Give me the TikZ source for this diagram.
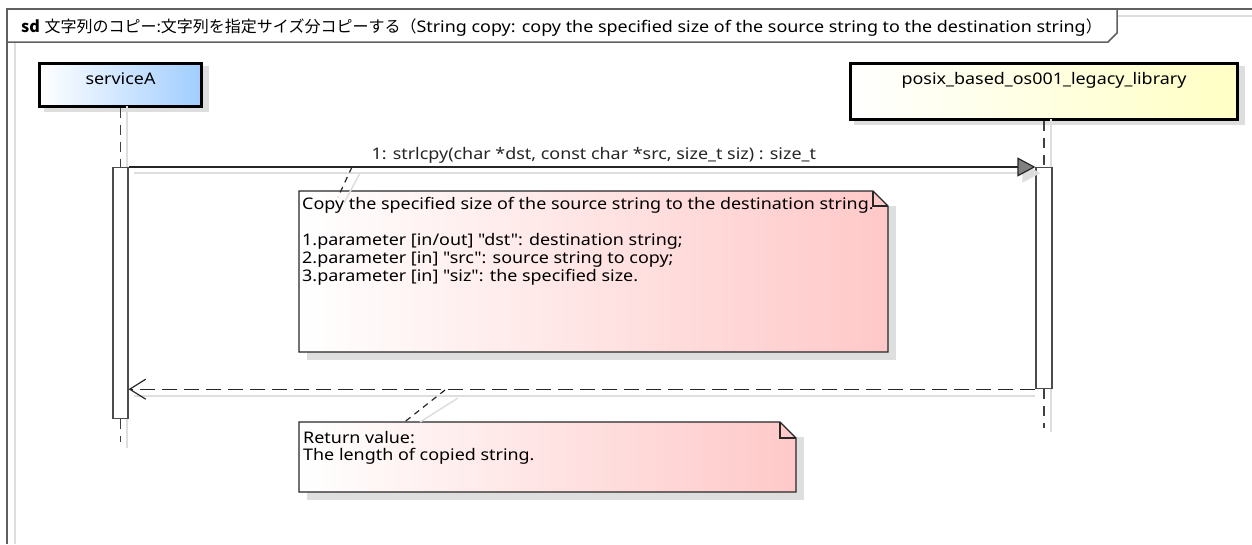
\documentclass[tikz,border=0pt]{standalone}
\usepackage{fontspec}
\setmainfont{Noto Sans}[Ligatures=TeXOff, FakeStretch=1.12]
\newfontfamily\jpfont{Noto Sans CJK JP}[Ligatures=TeXOff]
\usetikzlibrary{positioning, calc, arrows.meta}
\definecolor{framegray}{RGB}{96,96,96}
\definecolor{shadowgray}{RGB}{222,222,222}
\definecolor{partblue}{RGB}{160,205,255}
\definecolor{partyellow}{RGB}{255,255,196}
\definecolor{notepink}{RGB}{255,200,200}
\tikzset{
  lifeline/.style={draw=black!75, line width=1.2pt, dash pattern=on 10pt off 7pt},
  actbar/.style={draw=black!70, fill=white, line width=1.2pt, minimum width=15pt, inner sep=0pt, anchor=north},
  partbox/.style={draw=black, line width=3pt, inner xsep=0pt, inner ysep=6pt, anchor=north, text height=15.5pt},
  notetext/.style={align=left, inner sep=0pt, anchor=north west},
  notefill/.style={draw=black!85, line width=1.2pt, left color=white, right color=notepink},
  notelink/.style={black!85, line width=1.2pt, dash pattern=on 6pt off 5pt},
  shadowline/.style={shadowgray, line width=1.5pt},
}

\begin{document}
\begin{tikzpicture}[x=1pt, y=-1pt, font=\fontsize{16}{18}\selectfont]
\useasboundingbox (0,0) rectangle (1252,544);
% frame and title
\draw[shadowline] (15,43) -- (15,544);
\draw[shadowline] (1117,16) -- (1252,16);
\draw[framegray, line width=1.5pt] (7,544) -- (7,9) -- (1252,9);
\draw[framegray, line width=1.5pt] (7,42) -- (1108,42) -- (1117,33) -- (1117,9);
\node[anchor=base west, inner sep=0pt] (title) at (21,32) {{\jpfont\bfseries sd} {\jpfont 文字列のコピー:文字列を指定サイズ分コピーする（}String copy: copy the specified size of the source string to the destination string{\jpfont ）}};

% participants
\fill[shadowgray] (44,66) rectangle (209,112);
\fill[shadowgray] (854,66) rectangle (1245,125);
\node[partbox, left color=white, right color=partblue, minimum width=162pt, text depth=15.5pt] (svcA) at (120.5,61.5) {serviceA};
\node[partbox, left color=white, right color=partyellow, minimum width=387pt, text depth=28.5pt] (posix) at (1044,61.5) {posix\_based\_os001\_legacy\_library};

% lifelines
\draw[shadowline] (127,106) -- (127,448);
\draw[shadowline] (1051,119) -- (1051,432);
\node[actbar, minimum height=251pt] (actA) at (120.5,167) {};
\node[actbar, minimum width=16pt, minimum height=221pt] (actB) at (1044,167) {};
\coordinate (endA) at (120.5,442);
\coordinate (endB) at (1044,428);
\draw[lifeline] (svcA.south) -- (actA.north);
\draw[lifeline] (actA.south) -- (endA);
\draw[lifeline] (posix.south) -- (actB.north);
\draw[lifeline] (actB.south) -- (endB);

% messages
\coordinate (retA) at (actA.east |- actB.south);
\draw[shadowline, -{Triangle[length=18pt, width=19pt]}] ($(actA.north east)+(5,6)$) -- ($(actB.north west)+(5,6)$);
\draw[shadowline] ($(retA)+(5,7)$) -- ($(actB.south west)+(0,7)$);
\draw[black!85, line width=1.2pt, -{Triangle[length=18pt, width=19pt, fill=black!50]}] (actA.north east) -- (actB.north west)
  node[pos=0.513, anchor=base, yshift=8pt] (call) {1: strlcpy(char *dst, const char *src, size\_t siz) : size\_t};
\draw[black!85, line width=1.2pt, dash pattern=on 15pt off 7pt, -{Straight Barb[length=16pt, width=20pt]}] (actB.south west) -- (retA);

% note on the call
\fill[shadowgray] (307,206) rectangle (896,360);
\shadedraw[notefill] (299,191) -- (873,191) -- (888,206) -- (888,352) -- (299,352) -- cycle;
\draw[black!85, line width=1.2pt] (873,191) -- (873,206) -- (888,206);
\node[notetext] (note1) at (302,197) {Copy the specified size of the source string to the destination string.\\[18pt]
1.parameter [in/out] "dst": destination string;\\
2.parameter [in] "src": source string to copy;\\
3.parameter [in] "siz": the specified size.};
\coordinate (l1a) at (352,167);
\coordinate (l1b) at (338,197);
\draw[shadowline] (360,173) -- (344,203);
\draw[notelink] (l1a) -- (l1b);

% note on the return
\fill[shadowgray] (307,437) rectangle (804,500);
\shadedraw[notefill] (299,422) -- (780,422) -- (796,438) -- (796,492) -- (299,492) -- cycle;
\draw[black!85, line width=1.2pt] (780,422) -- (780,438) -- (796,438);
\node[notetext, font=\fontsize{16}{17}\selectfont] (note2) at (303,431) {Return value:\\The length of copied string.};
\coordinate (l2a) at (445,390);
\coordinate (l2b) at (402,424);
\draw[shadowline] (458,398) -- (420,422);
\draw[notelink] (l2a) -- (l2b);
\end{tikzpicture}
\end{document}
